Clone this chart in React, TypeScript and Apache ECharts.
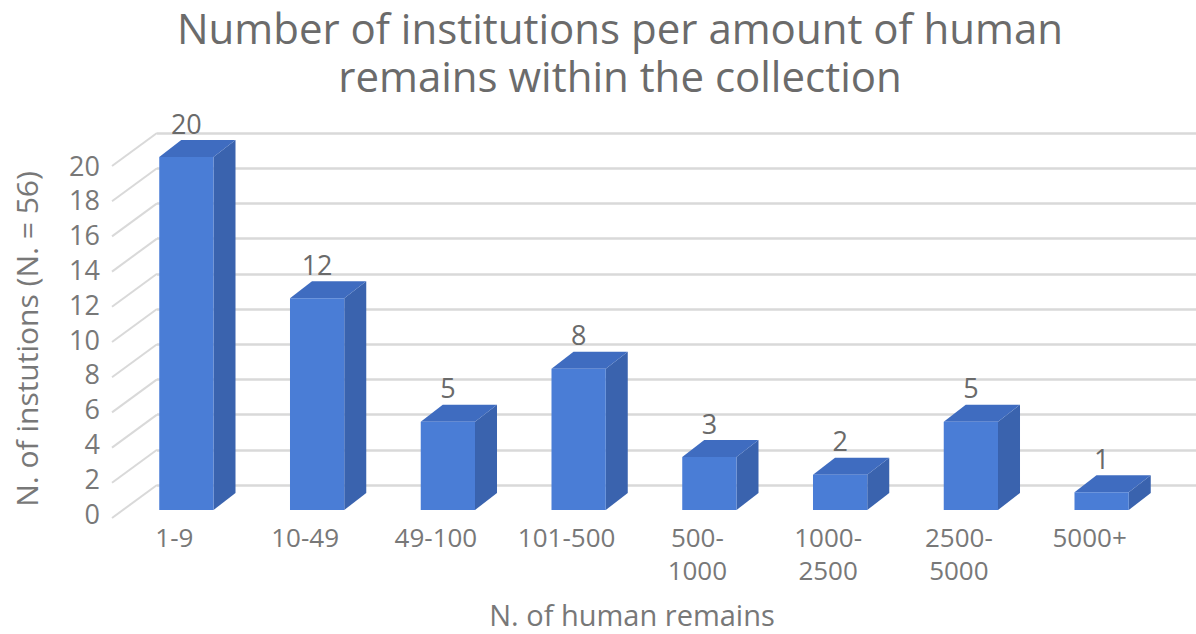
import React, { useEffect, useRef } from "react";
import * as echarts from "echarts";

const categories = ["1-9", "10-49", "49-100", "101-500", "500-\n1000", "1000-\n2500", "2500-\n5000", "5000+"];
const institutions = [20, 12, 5, 8, 3, 2, 5, 1];
const yTicks = [0, 2, 4, 6, 8, 10, 12, 14, 16, 18, 20];
const titleLines = ["Number of institutions per amount of human", "remains within the collection"];
const yAxisTitle = "N. of instutions (N. = 56)";
const xAxisTitle = "N. of human remains";

export default function App() {
  const ref = useRef<HTMLDivElement>(null);
  useEffect(() => {
    document.body.style.margin = "0";
    const chart = echarts.init(ref.current as HTMLDivElement, null, { renderer: "svg" });
    const DX = 22;
    const DY = -17;
    const font = "'Open Sans', sans-serif";
    const tickColor = "#787878";
    const titleStyle = { fontFamily: font, fontSize: 42, lineHeight: 46, fontWeight: "normal", color: "#6b6b6b" };
    const option: any = {
      animation: false,
      backgroundColor: "#ffffff",
      title: titleLines.map((t, k) => ({
        text: t,
        left: 620,
        textAlign: "center",
        top: 4 + k * 48,
        padding: 0,
        textStyle: titleStyle,
      })),
      grid: [
        { left: 157, right: 0, top: 133, height: 352 },
        { left: 121, width: 1046, top: 157, height: 353 },
        { left: 109, width: 1046, top: 165, height: 353 },
      ],
      xAxis: [
        { gridIndex: 0, type: "category", data: categories, show: false },
        { gridIndex: 1, type: "category", data: categories, show: false },
        {
          gridIndex: 2,
          type: "category",
          data: categories,
          axisLine: { show: false },
          axisTick: { show: false },
          axisLabel: { interval: 0, margin: 7, fontSize: 26, lineHeight: 33, color: tickColor, fontFamily: font },
          name: xAxisTitle,
          nameLocation: "middle",
          nameGap: 87,
          nameTextStyle: { fontSize: 29, color: tickColor, fontFamily: font },
        },
      ],
      yAxis: [
        {
          gridIndex: 0,
          type: "value",
          min: 0,
          max: 20,
          interval: 2,
          axisLabel: { show: false },
          axisLine: { show: false },
          axisTick: { show: false },
          splitLine: { show: true, lineStyle: { color: "#d9d9d9", width: 2.5 } },
        },
        { gridIndex: 1, type: "value", min: 0, max: 20, interval: 2, show: false, splitLine: { show: false } },
        {
          gridIndex: 2,
          type: "value",
          min: 0,
          max: 20,
          interval: 2,
          axisLine: { show: false },
          axisTick: { show: false },
          splitLine: { show: false },
          axisLabel: { margin: 9, fontSize: 27, color: tickColor, fontFamily: font },
          name: yAxisTitle,
          nameLocation: "middle",
          nameGap: 68,
          nameRotate: 90,
          nameTextStyle: { fontSize: 30, color: tickColor, fontFamily: font },
        },
      ],
      series: [
        {
          type: "custom",
          xAxisIndex: 0,
          yAxisIndex: 0,
          data: yTicks.map((v) => [0, v]),
          encode: { x: 0, y: 1 },
          silent: true,
          z: 1,
          renderItem: (params: any, api: any) => {
            const v = api.value(1);
            const y = api.coord([0, v])[1];
            const x = params.coordSys.x;
            return {
              type: "line",
              shape: { x1: x - 45, y1: y + 33, x2: x, y2: y },
              style: { stroke: "#d9d9d9", lineWidth: 2 },
            };
          },
        },
        {
          type: "custom",
          xAxisIndex: 1,
          yAxisIndex: 1,
          data: institutions.map((v, i) => [i, v]),
          encode: { x: 0, y: 1 },
          z: 3,
          renderItem: (params: any, api: any) => {
            const i = api.value(0);
            const v = api.value(1);
            const base = api.coord([i, 0]);
            const top = api.coord([i, v]);
            const bw = api.size([1, 0])[0] * 0.415;
            const x0 = base[0] - bw / 2;
            const x1 = base[0] + bw / 2;
            const yb = base[1];
            const yt = top[1];
            return {
              type: "group",
              children: [
                {
                  type: "polygon",
                  shape: { points: [[x1, yt], [x1 + DX, yt + DY], [x1 + DX, yb + DY], [x1, yb]] },
                  style: { fill: "#3a63ae" },
                },
                {
                  type: "polygon",
                  shape: { points: [[x0, yt], [x0 + DX, yt + DY], [x1 + DX, yt + DY], [x1, yt]] },
                  style: { fill: "#3f6cc0" },
                },
                {
                  type: "rect",
                  shape: { x: x0, y: yt, width: bw, height: yb - yt },
                  style: { fill: "#4a7dd6" },
                },
                {
                  type: "text",
                  style: {
                    text: String(v),
                    x: base[0],
                    y: yt - 34,
                    align: "center",
                    verticalAlign: "middle",
                    fontSize: 27,
                    fontFamily: font,
                    fill: "#6a6a6a",
                  },
                },
              ],
            };
          },
        },
      ],
    };
    chart.setOption(option);
    return () => chart.dispose();
  }, []);
  return <div ref={ref} style={{ width: 1196, height: 634 }} />;
}
